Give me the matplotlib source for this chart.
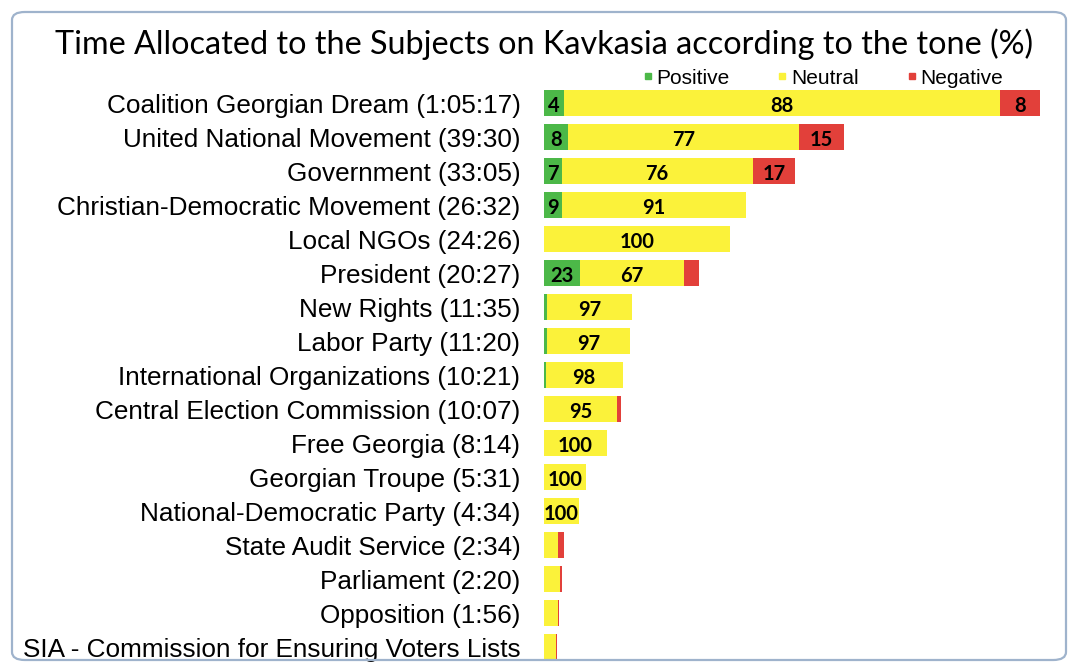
import numpy as np
import matplotlib.pyplot as plt
from matplotlib.patches import FancyBboxPatch
from matplotlib.lines import Line2D

subjects = ['Coalition Georgian Dream (1:05:17)', 'United National Movement (39:30)',
            'Government (33:05)', 'Christian-Democratic Movement (26:32)',
            'Local NGOs (24:26)', 'President (20:27)', 'New Rights (11:35)',
            'Labor Party (11:20)', 'International Organizations (10:21)',
            'Central Election Commission (10:07)', 'Free Georgia (8:14)',
            'Georgian Troupe (5:31)', 'National-Democratic Party (4:34)',
            'State Audit Service (2:34)', 'Parliament (2:20)', 'Opposition (1:56)',
            'SIA - Commission for Ensuring Voters Lists']
# airtime in seconds (SIA has no time in its label)
seconds = [3917, 2370, 1985, 1592, 1466, 1227, 695, 680, 621, 607, 494, 331, 274,
           154, 140, 116, 100]
positive = [4, 8, 7, 9, 0, 23, 3, 3, 2, 0, 0, 0, 0, 0, 0, 0, 0]
neutral = [88, 77, 76, 91, 100, 67, 97, 97, 98, 95, 100, 100, 100, 70, 90, 92, 92]
negative = [8, 15, 17, 0, 0, 10, 0, 0, 0, 5, 0, 0, 0, 30, 10, 8, 8]

tones = ['Positive', 'Neutral', 'Negative']
colors = ['#4cb848', '#fbf23a', '#e2403a']

fig = plt.figure(figsize=(10.72, 6.67), dpi=100)
fig.patches.append(FancyBboxPatch((12 / 1072, 7 / 667), 1054 / 1072, 648 / 667,
                                  boxstyle='round,pad=0,rounding_size=0.012',
                                  transform=fig.transFigure, fill=False,
                                  edgecolor='#9fb3cc', linewidth=1.6))

ax = fig.add_axes([544 / 1072, 3 / 667, 496 / 1072, 578 / 667])
y = np.arange(len(subjects))
secs = np.array(seconds, dtype=float)
left = np.zeros(len(subjects))
for pct, col in zip([positive, neutral, negative], colors):
    w = secs * np.array(pct) / 100
    ax.barh(y, w, left=left, height=0.74, color=col, linewidth=0)
    # only segments wide enough get their percentage written in
    for yi, l, wi, p in zip(y, left, w, pct):
        if wi >= 130:
            ax.text(l + wi / 2, yi + 0.1, str(p), ha='center', va='center',
                    fontsize=14.5, fontweight='bold', family='Lato', color='black')
    left += w

ax.set_xlim(0, max(seconds))
ax.set_ylim(len(subjects) - 0.5, -0.5)
ax.set_yticks(y)
ax.set_yticklabels(subjects, fontsize=18.8, family='Liberation Sans')
ax.tick_params(axis='y', length=0, pad=17)
ax.set_xticks([])
for s in ax.spines.values():
    s.set_visible(False)

fig.text(544 / 1072, 1 - 44 / 667,
         'Time Allocated to the Subjects on Kavkasia according to the tone (%)',
         ha='center', va='center', fontsize=23.3, family='Lato')

handles = [Line2D([], [], marker='s', linestyle='', color=c, markersize=5) for c in colors]
fig.legend(handles, tones, loc='center', bbox_to_anchor=(820 / 1072, 1 - 78 / 667),
           ncol=3, frameon=False, handletextpad=-0.1, handlelength=1.0,
           columnspacing=2.05, prop={'family': 'Liberation Sans', 'size': 15})

fig.savefig('out.png', dpi=100)
